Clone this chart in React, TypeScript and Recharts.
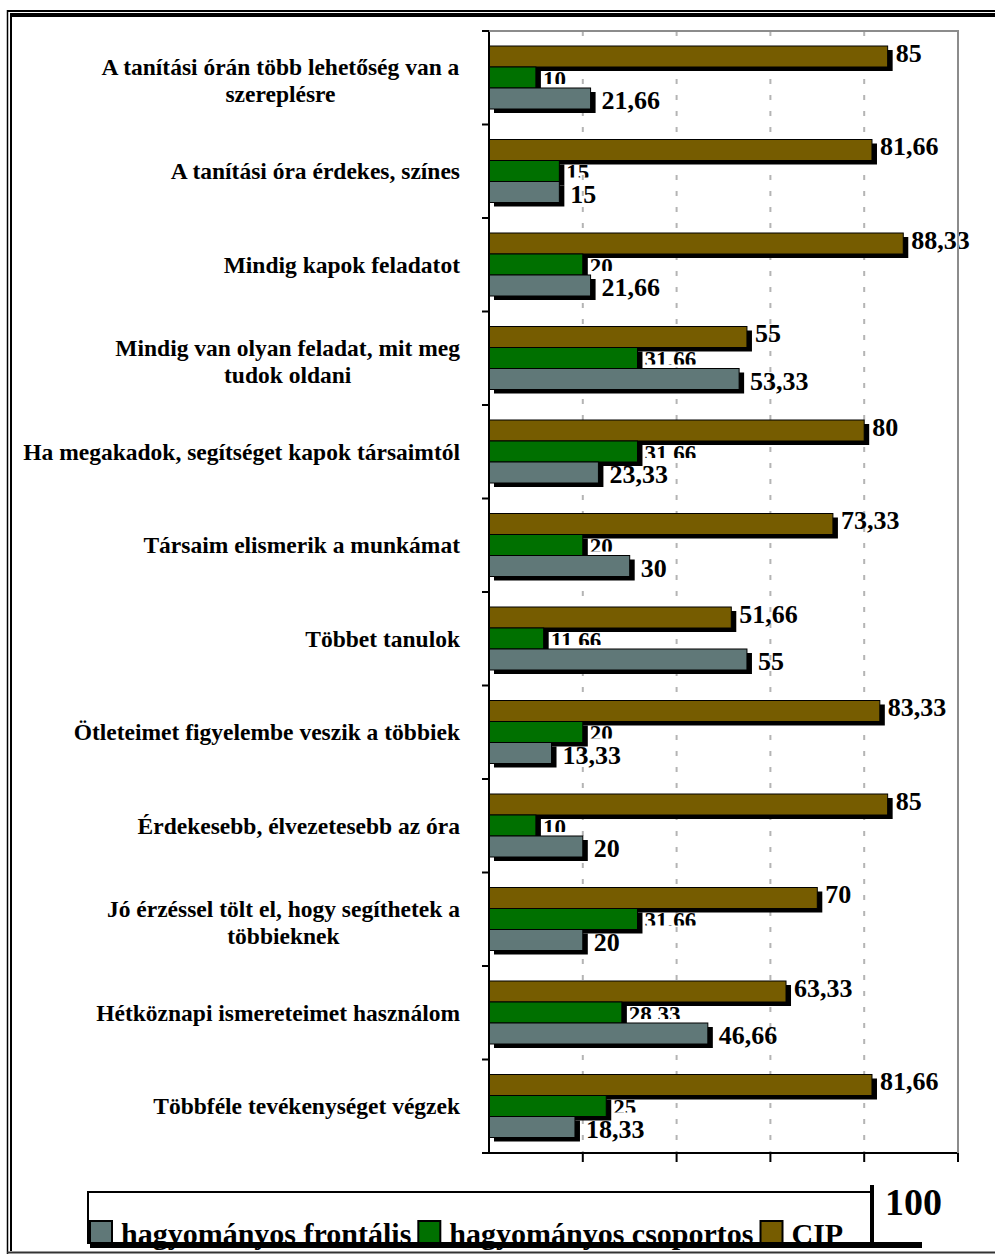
import { BarChart, Bar, XAxis, YAxis, CartesianGrid, LabelList } from "recharts";

const categories = [
  "A tanítási órán több lehetőség van a\nszereplésre",
  "A tanítási óra érdekes, színes",
  "Mindig kapok feladatot",
  "Mindig van olyan feladat, mit meg\ntudok oldani",
  "Ha megakadok, segítséget kapok társaimtól",
  "Társaim elismerik a munkámat",
  "Többet tanulok",
  "Ötleteimet figyelembe veszik a többiek",
  "Érdekesebb, élvezetesebb az óra",
  "Jó érzéssel tölt el, hogy segíthetek a\ntöbbieknek",
  "Hétköznapi ismereteimet használom",
  "Többféle tevékenységet végzek",
];

const cip = [85, 81.66, 88.33, 55, 80, 73.33, 51.66, 83.33, 85, 70, 63.33, 81.66];
const csoportos = [10, 15, 20, 31.66, 31.66, 20, 11.66, 20, 10, 31.66, 28.33, 25];
const frontalis = [21.66, 15, 21.66, 53.33, 23.33, 30, 55, 13.33, 20, 20, 46.66, 18.33];

const xTicks = [20, 40, 60, 80, 100];

// legend order (as in the picture)
const legendItems = [
  { name: "hagyományos frontális", color: "#607878" },
  { name: "hagyományos csoportos", color: "#007000" },
  { name: "CIP", color: "#765c00" },
];

const data = categories.map((name, i) => ({
  name,
  cip: cip[i],
  csoportos: csoportos[i],
  frontalis: frontalis[i],
}));

const W = 995;
const H = 1255;
const MARGIN = { top: 31, right: 37, left: 9, bottom: 72 };
const Y_AXIS_W = 480;
const X_AXIS_H = 30;
const AXIS_X = MARGIN.left + Y_AXIS_W;
const PLOT_RIGHT = W - MARGIN.right;
const PLOT_BOTTOM = H - MARGIN.bottom - X_AXIS_H;
const PLOT_H = PLOT_BOTTOM - MARGIN.top;
const BAND = PLOT_H / categories.length;

const FONT = "'Liberation Serif', 'Times New Roman', serif";

let ctx: CanvasRenderingContext2D | null = null;
function textWidth(s: string, font: string) {
  if (!ctx) ctx = document.createElement("canvas").getContext("2d");
  if (!ctx) return s.length * 11;
  ctx.font = font;
  return ctx.measureText(s).width;
}

const fmt = (v: any) => String(v).replace(".", ",");

function CategoryTick(props: any) {
  const { y, payload, index } = props;
  const lines: string[] = String(payload.value).split("\n");
  const font = `bold 23.5px 'Liberation Serif'`;
  const right = AXIS_X - 29;
  const n = lines.length;
  const maxW = Math.max(...lines.map((l) => textWidth(l, font)));
  const cx = right - maxW / 2;
  return (
    <g>
      <line x1={AXIS_X - 7} x2={AXIS_X} y1={y - BAND / 2} y2={y - BAND / 2} stroke="#000" strokeWidth={2} />
      {index === categories.length - 1 && (
        <line x1={AXIS_X - 7} x2={AXIS_X} y1={y + BAND / 2} y2={y + BAND / 2} stroke="#000" strokeWidth={2} />
      )}
      {lines.map((l, i) => (
        <text
          key={i}
          x={n > 1 ? cx : right}
          y={y + 8 + (i - (n - 1) / 2) * 27 + (n > 1 ? 3 : 0)}
          textAnchor={n > 1 ? "middle" : "end"}
          fontFamily={FONT}
          fontWeight="bold"
          fontSize={23.5}
          fill="#000"
        >
          {l}
        </text>
      ))}
    </g>
  );
}

function ValueTick(props: any) {
  const { x, y, payload } = props;
  if (payload.value !== 100) return <g />;
  return (
    <text x={x - 73} y={y + 51} fontFamily={FONT} fontWeight="bold" fontSize={38} fill="#000">
      {payload.value}
    </text>
  );
}

function ShadowBar(props: any) {
  const { x, y, width, height, fill } = props;
  if (!width || width <= 0) return <g />;
  return (
    <g>
      <rect x={x + 5} y={y + 4} width={width} height={height} fill="#000" />
      <rect x={x} y={y} width={width} height={height} fill={fill} stroke="#000" strokeWidth={1} />
    </g>
  );
}

function CipLabel(props: any) {
  const { x, y, width, height, value } = props;
  return (
    <text x={x + width + 8} y={y + height / 2 + 5} fontFamily={FONT} fontWeight="bold" fontSize={26} fill="#000">
      {fmt(value)}
    </text>
  );
}

function FrontLabel(props: any) {
  const { x, y, width, height, value } = props;
  return (
    <text x={x + width + 11} y={y + height / 2 + 10.5} fontFamily={FONT} fontWeight="bold" fontSize={26} fill="#000">
      {fmt(value)}
    </text>
  );
}

function GroupLabel(props: any) {
  const { x, y, width, height, value, index } = props;
  const id = `gclip-${index}`;
  return (
    <g>
      <defs>
        <clipPath id={id}>
          <rect x={x + width} y={y - 10} width={200} height={height + 6} />
        </clipPath>
      </defs>
      <text
        x={x + width + 7}
        y={y + 19.5}
        clipPath={`url(#${id})`}
        fontFamily={FONT}
        fontWeight="bold"
        fontSize={23}
        fill="#000"
      >
        {fmt(value)}
      </text>
    </g>
  );
}

function Overlay() {
  const font = `bold 30px 'Liberation Serif'`;
  let cur = 89;
  const items = legendItems.map((it) => {
    const sx = cur;
    const tx = sx + 32;
    const tw = textWidth(it.name, font);
    cur = tx + tw + 6;
    return { ...it, sx, tx };
  });
  return (
    <svg width={W} height={H} style={{ position: "absolute", left: 0, top: 0, pointerEvents: "none" }}>
      {/* plot border (top, right) */}
      <line x1={AXIS_X} x2={PLOT_RIGHT + 1} y1={MARGIN.top} y2={MARGIN.top} stroke="#8c8c8c" strokeWidth={2} />
      <line x1={PLOT_RIGHT} x2={PLOT_RIGHT} y1={MARGIN.top} y2={PLOT_BOTTOM} stroke="#8c8c8c" strokeWidth={2} />
      {/* frame */}
      <line x1={7} x2={W} y1={11} y2={11} stroke="#000" strokeWidth={2} />
      <line x1={10} x2={W} y1={15} y2={15} stroke="#000" strokeWidth={4} />
      <line x1={7.5} x2={7.5} y1={10} y2={1254} stroke="#000" strokeWidth={1.5} />
      <line x1={11} x2={11} y1={13} y2={1251} stroke="#000" strokeWidth={2} />
      <line x1={7} x2={W} y1={1252.5} y2={1252.5} stroke="#333" strokeWidth={2} />
      {/* legend box */}
      <line x1={88} x2={872} y1={1192} y2={1192} stroke="#000" strokeWidth={2} />
      <line x1={88} x2={88} y1={1191} y2={1244} stroke="#000" strokeWidth={2} />
      {items.map((it) => (
        <g key={it.name}>
          <rect x={it.sx + 1} y={1221} width={22} height={22} fill={it.color} stroke="#000" strokeWidth={2} />
          <text x={it.tx} y={1244} fontFamily={FONT} fontWeight="bold" fontSize={30} fill="#000">
            {it.name}
          </text>
        </g>
      ))}
      <line x1={872} x2={872} y1={1185} y2={1244} stroke="#000" strokeWidth={4} />
      <rect x={90} y={1242} width={832} height={6} fill="#000" />
    </svg>
  );
}

export default function App() {
  return (
    <div style={{ position: "absolute", left: 0, top: 0, width: W, height: H, background: "#fff" }}>
      <BarChart
        width={W}
        height={H}
        data={data}
        layout="vertical"
        margin={MARGIN}
        barSize={21}
        barGap={0}
      >
        <CartesianGrid
          horizontal={false}
          stroke="#b4b4b4"
          strokeWidth={2}
          strokeDasharray="5 11"
        />
        <XAxis
          type="number"
          domain={[0, 100]}
          ticks={xTicks}
          height={X_AXIS_H}
          axisLine={{ stroke: "#000", strokeWidth: 2 }}
          tickLine={{ stroke: "#000", strokeWidth: 2 }}
          tickSize={9}
          tick={<ValueTick />}
          interval={0}
        />
        <YAxis
          type="category"
          dataKey="name"
          width={Y_AXIS_W}
          axisLine={{ stroke: "#000", strokeWidth: 2 }}
          tickLine={false}
          tick={<CategoryTick />}
          interval={0}
        />
        <Bar dataKey="cip" name="CIP" fill="#765c00" shape={<ShadowBar />} isAnimationActive={false}>
          <LabelList dataKey="cip" content={<CipLabel />} />
        </Bar>
        <Bar dataKey="csoportos" name="hagyományos csoportos" fill="#007000" shape={<ShadowBar />} isAnimationActive={false}>
          <LabelList dataKey="csoportos" content={<GroupLabel />} />
        </Bar>
        <Bar dataKey="frontalis" name="hagyományos frontális" fill="#607878" shape={<ShadowBar />} isAnimationActive={false}>
          <LabelList dataKey="frontalis" content={<FrontLabel />} />
        </Bar>
      </BarChart>
      <Overlay />
    </div>
  );
}
